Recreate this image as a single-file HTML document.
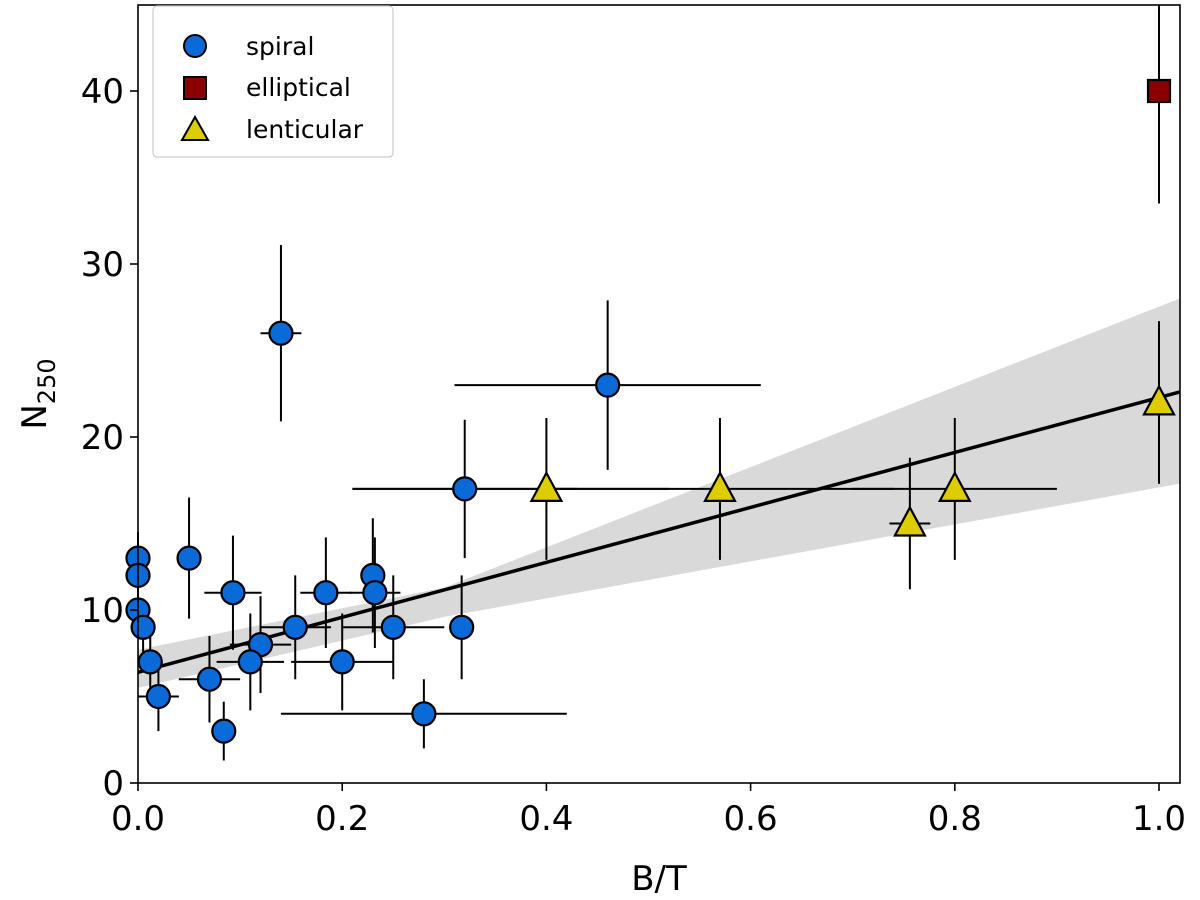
<!DOCTYPE html>
<html><head><meta charset="utf-8"><style>
body{margin:0;background:#fff;font-family:"Liberation Sans","DejaVu Sans",sans-serif}
</style></head><body>
<svg id="chart" width="1200" height="895" viewBox="0 0 1200 895" xmlns="http://www.w3.org/2000/svg" font-family="DejaVu Sans, Liberation Sans, sans-serif">
<g id="band"></g>
<g id="fit"></g>
<g id="errs"></g>
<g id="marks"></g>
<rect x="138" y="5" width="1042" height="778" fill="none" stroke="#000" stroke-width="1.6"/>
<g id="axes"></g>
<text x="659" y="890" font-size="34" text-anchor="middle">B/T</text>
<text transform="translate(46,394) rotate(-90)" font-size="34" text-anchor="middle">N<tspan font-size="24" dy="9">250</tspan></text>
<g>
<rect x="153" y="6" width="240" height="151" rx="4" fill="#fff" stroke="#ccc" stroke-width="1.2"/>
<g><circle cx="195" cy="46" r="11" fill="#0a6ad8" stroke="#000" stroke-width="2"/><text x="246" y="55" font-size="25">spiral</text></g>
<g><rect x="184" y="77" width="22" height="22" fill="#8b0000" stroke="#000" stroke-width="2"/><text x="246" y="96" font-size="25">elliptical</text></g>
<g><polygon points="195,117 208,140 182,140" fill="#dccc00" stroke="#000" stroke-width="2"/><text x="246" y="138" font-size="25">lenticular</text></g>
</g>
</svg>
<script>
const spiralX=[0,0,0,0.005,0.012,0.02,0.05,0.14,0.46,0.32,0.093,0.184,0.23,0.232,0.154,0.25,0.317,0.12,0.11,0.07,0.2,0.084,0.28];
const spiralY=[13,12,10,9,7,5,13,26,23,17,11,11,12,11,9,9,9,8,7,6,7,3,4];
const spiralXerr=[0,0,0,0,0,0.02,0,0.02,0.15,0.11,0.028,0.025,0,0.025,0.035,0.05,0,0.03,0.033,0.03,0.05,0,0.14];
const spiralYerr=[1.5,1.5,1.5,1.5,1.5,2,3.5,5.1,4.9,4,3.3,3.2,3.3,3.2,3,3,3,2.8,2.8,2.5,2.8,1.7,2];
const lentX=[0.4,0.57,0.756,0.8,1.0];
const lentY=[17,17,15,17,22];
const lentXlo=[0.19,0.17,0.02,0.1,0];
const lentXhi=[0.12,0.17,0.02,0.1,0];
const lentYerr=[4.1,4.1,3.8,4.1,4.7];
const ellX=[1.0];
const ellY=[40];
const ellYerr=[6.5];
const fitX=[0,1.02];
const fitY=[6.4,22.6];
const bandX=[0,0.3,1.02];
const bandLo=[5.5,9.6,17.3];
const bandHi=[7.7,11.3,28];
const xTicks=[0,0.2,0.4,0.6,0.8,1.0];
const xTickLabels=["0.0","0.2","0.4","0.6","0.8","1.0"];
const yTicks=[0,10,20,30,40];
const yTickLabels=["0","10","20","30","40"];

const NS="http://www.w3.org/2000/svg";
const X=v=>138+1021*v, Y=v=>783-17.3*v;
function mk(t,a,p){const e=document.createElementNS(NS,t);for(const k in a)e.setAttribute(k,a[k]);p.appendChild(e);return e;}
const band=document.getElementById('band'),fit=document.getElementById('fit'),errs=document.getElementById('errs'),marks=document.getElementById('marks'),axes=document.getElementById('axes');
let pts=bandX.map((x,i)=>X(x)+','+Y(bandHi[i]));
pts=pts.concat(bandX.map((x,i)=>X(x)+','+Y(bandLo[i])).reverse());
const bp=mk('polygon',{points:pts.join(' '),fill:'#d9d9d9'},band);


const fl=mk('line',{x1:X(fitX[0]),y1:Y(fitY[0]),x2:X(fitX[1]),y2:Y(fitY[1]),stroke:'#000','stroke-width':3.5},fit);


function eb(x,y,xl,xh,ye){
  const g=mk('g',{stroke:'#000','stroke-width':2},errs);
  
  
  if(xl||xh)mk('line',{x1:X(x-xl),x2:X(x+xh),y1:Y(y),y2:Y(y)},g);
  if(ye)mk('line',{x1:X(x),x2:X(x),y1:Math.max(5,Y(y+ye)),y2:Y(y-ye)},g);
}
spiralX.forEach((x,i)=>eb(x,spiralY[i],spiralXerr[i],spiralXerr[i],spiralYerr[i]));
lentX.forEach((x,i)=>eb(x,lentY[i],lentXlo[i],lentXhi[i],lentYerr[i]));
ellX.forEach((x,i)=>eb(x,ellY[i],0,0,ellYerr[i]));
spiralX.forEach((x,i)=>{const c=mk('circle',{cx:X(x),cy:Y(spiralY[i]),r:11.5,fill:'#0a6ad8',stroke:'#000','stroke-width':2.2},marks);

});
lentX.forEach((x,i)=>{const cx=X(x),cy=Y(lentY[i]);const p=mk('polygon',{points:`${cx},${cy-16} ${cx+15},${cy+12} ${cx-15},${cy+12}`,fill:'#dccc00',stroke:'#000','stroke-width':2.2},marks);

});
ellX.forEach((x,i)=>{const cx=X(x),cy=Y(ellY[i]);const r=mk('rect',{x:cx-11,y:cy-11,width:22,height:22,fill:'#8b0000',stroke:'#000','stroke-width':2.2},marks);

});
xTicks.forEach((t,i)=>{mk('line',{x1:X(t),x2:X(t),y1:783,y2:791,stroke:'#000','stroke-width':1.6},axes);
const tx=mk('text',{x:X(t),y:830,'font-size':34,'text-anchor':'middle'},axes);tx.textContent=xTickLabels[i];

});
yTicks.forEach((t,i)=>{mk('line',{x1:130,x2:138,y1:Y(t),y2:Y(t),stroke:'#000','stroke-width':1.6},axes);
const tx=mk('text',{x:124,y:Y(t)+12,'font-size':34,'text-anchor':'end'},axes);tx.textContent=yTickLabels[i];

});
</script>
</body></html>
